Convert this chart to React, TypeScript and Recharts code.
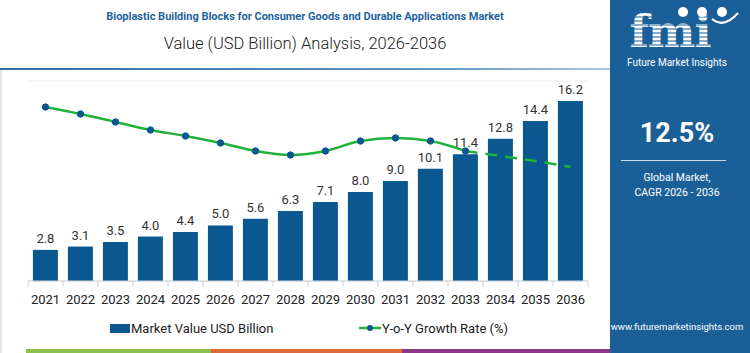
import React from 'react';
import { ComposedChart, Bar, Line, XAxis, YAxis, CartesianGrid, LabelList } from 'recharts';

const YEARS = ['2021', '2022', '2023', '2024', '2025', '2026', '2027', '2028', '2029', '2030', '2031', '2032', '2033', '2034', '2035', '2036'];
const MARKET_VALUE = [2.8, 3.1, 3.5, 4.0, 4.4, 5.0, 5.6, 6.3, 7.1, 8.0, 9.0, 10.1, 11.4, 12.8, 14.4, 16.2];
// growth line: solid through 2033, dashed (forecast) afterwards
const GROWTH_ACTUAL = [17.4, 16.7, 15.9, 15.1, 14.5, 13.8, 13.0, 12.6, 13.0, 14.0, 14.3, 14.0, 13.0, null, null, null];
const GROWTH_FORECAST = [null, null, null, null, null, null, null, null, null, null, null, null, 13.0, 12.5, 12.0, 11.4];
const VALUE_TICKS = [0, 2, 4, 6, 8, 10, 12, 14, 16, 18];

const BAR_COLOR = '#0b5890';
const LINE_COLOR = '#1fb23a';
const PANEL_COLOR = '#1b5f98';
const FONT = 'Roboto, "Open Sans", sans-serif';

const data = YEARS.map((year, i) => ({
  year,
  value: MARKET_VALUE[i],
  growth: GROWTH_ACTUAL[i],
  growthForecast: GROWTH_FORECAST[i],
}));

const YearTick = (props: any) => {
  const { x, y, payload, width, visibleTicksCount, index } = props;
  const band = width / visibleTicksCount;
  return (
    <g>
      <line x1={x - band / 2} x2={x - band / 2} y1={y - 8} y2={y - 2} stroke="#d0d0d0" />
      {index === visibleTicksCount - 1 && (
        <line x1={x + band / 2} x2={x + band / 2} y1={y - 8} y2={y - 2} stroke="#d0d0d0" />
      )}
      <text x={x} y={y + 15} textAnchor="middle" fontSize={13} fill="#222" fontFamily={FONT}>
        {payload.value}
      </text>
    </g>
  );
};

const Logo = () => (
  <svg width={140} height={72} style={{ position: 'absolute', left: 0, top: 0 }}>
    <text x={60} y={47} textAnchor="middle" fontSize={45} fontWeight={900} fill="#fff" fontFamily="'DejaVu Serif', serif" letterSpacing={-1}>
      fmi
    </text>
    {[17, 21, 25, 29, 33, 37, 41, 45].map((yy) => (
      <line key={yy} x1={10} x2={130} y1={yy} y2={yy} stroke={PANEL_COLOR} strokeWidth={1.2} />
    ))}
    <circle cx={73} cy={12} r={5} fill="#fff" />
    <circle cx={92} cy={12} r={5} fill="#fff" />
    <circle cx={112} cy={12} r={5} fill="#fff" />
    <path d="M102 19 Q114 29 128 13" stroke="#fff" strokeWidth={2} fill="none" />
    <text x={67} y={66} textAnchor="middle" fontSize={10} fill="#fff" fontFamily={FONT}>
      Future Market Insights
    </text>
  </svg>
);

export default function App() {
  return (
    <div style={{ position: 'fixed', left: 0, top: 0, width: 750, height: 353, background: '#fff', overflow: 'hidden', fontFamily: FONT }}>
      <div style={{ position: 'absolute', left: 0, top: 0, width: 610, textAlign: 'center', fontSize: 11, fontWeight: 700, color: '#1f64a0', lineHeight: '14px', paddingTop: 10 }}>
        Bioplastic Building Blocks for Consumer Goods and Durable Applications Market
      </div>
      <div style={{ position: 'absolute', left: 0, top: 33, width: 610, textAlign: 'center', fontSize: 16.5, fontWeight: 300, color: '#1a1a1a', lineHeight: '22px' }}>
        Value (USD Billion) Analysis, 2026-2036
      </div>
      <div style={{ position: 'absolute', left: 0, top: 68, width: 612, height: 2, background: 'linear-gradient(to right, #2a6ea6, #5d95c4 70%, #a9c8e3)' }} />
      <div style={{ position: 'absolute', left: 0, top: 70, width: 2, height: 283, background: '#dfe6ee' }} />

      <div style={{ position: 'absolute', left: 0, top: 70 }}>
        <ComposedChart width={610} height={240} data={data} margin={{ top: 11, right: 22, left: 28, bottom: 0 }} barCategoryGap="14%">
          <CartesianGrid horizontal vertical={false} stroke="#eeeeee" />
          <XAxis dataKey="year" height={29} axisLine={{ stroke: '#d0d0d0' }} tickLine={false} tick={<YearTick />} interval={0} />
          <YAxis yAxisId="v" domain={[0, 18]} ticks={VALUE_TICKS} hide />
          <YAxis yAxisId="g" orientation="right" domain={[0, 20]} hide />
          <Bar yAxisId="v" dataKey="value" fill={BAR_COLOR} isAnimationActive={false}>
            <LabelList dataKey="value" position="top" offset={7} fontSize={13} fill="#333" fontFamily={FONT} formatter={(v: any) => Number(v).toFixed(1)} />
          </Bar>
          <Line yAxisId="g" dataKey="growth" type="monotone" stroke={LINE_COLOR} strokeWidth={2.5} dot={{ r: 3.2, fill: BAR_COLOR, stroke: BAR_COLOR, strokeWidth: 1 }} activeDot={false} connectNulls={false} isAnimationActive={false} />
          <Line yAxisId="g" dataKey="growthForecast" type="monotone" stroke={LINE_COLOR} strokeWidth={2.5} strokeDasharray="12 8" dot={false} activeDot={false} connectNulls={false} isAnimationActive={false} />
        </ComposedChart>
      </div>

      {/* legend */}
      <div style={{ position: 'absolute', left: 110, top: 318, height: 20, display: 'flex', alignItems: 'center', fontSize: 13, color: '#222' }}>
        <span style={{ display: 'inline-block', width: 20, height: 9, background: BAR_COLOR }} />
        <span style={{ marginLeft: 1 }}>Market Value USD Billion</span>
      </div>
      <div style={{ position: 'absolute', left: 359, top: 318, height: 20, display: 'flex', alignItems: 'center', fontSize: 13, color: '#222' }}>
        <svg width={22} height={10}>
          <line x1={0} x2={22} y1={5} y2={5} stroke={LINE_COLOR} strokeWidth={2.5} />
          <circle cx={11} cy={5} r={3} fill={BAR_COLOR} />
        </svg>
        <span style={{ marginLeft: 1 }}>Y-o-Y Growth Rate (%)</span>
      </div>

      {/* bottom strip */}
      <div style={{ position: 'absolute', left: 26, top: 349, width: 185, height: 4, background: '#8cc04b' }} />
      <div style={{ position: 'absolute', left: 211, top: 349, width: 191, height: 4, background: '#e0693a' }} />
      <div style={{ position: 'absolute', left: 402, top: 349, width: 208, height: 4, background: '#8e3a8a' }} />

      {/* right panel */}
      <div style={{ position: 'absolute', left: 610, top: 0, width: 140, height: 353, background: PANEL_COLOR, color: '#fff' }}>
        <Logo />
        <div style={{ position: 'absolute', left: 0, top: 116, width: 134, textAlign: 'center', fontSize: 27, fontWeight: 700, lineHeight: '34px' }}>12.5%</div>
        <div style={{ position: 'absolute', left: 11, top: 160, width: 105, height: 1, background: '#c9dcec' }} />
        <div style={{ position: 'absolute', left: 0, top: 170, width: 134, textAlign: 'center', fontSize: 10.5, lineHeight: '15px' }}>
          Global Market,<br />CAGR 2026 - 2036
        </div>
        <div style={{ position: 'absolute', left: 0, top: 320, width: 134, textAlign: 'center', fontSize: 9.5, lineHeight: '14px' }}>
          www.futuremarketinsights.com
        </div>
      </div>
    </div>
  );
}
